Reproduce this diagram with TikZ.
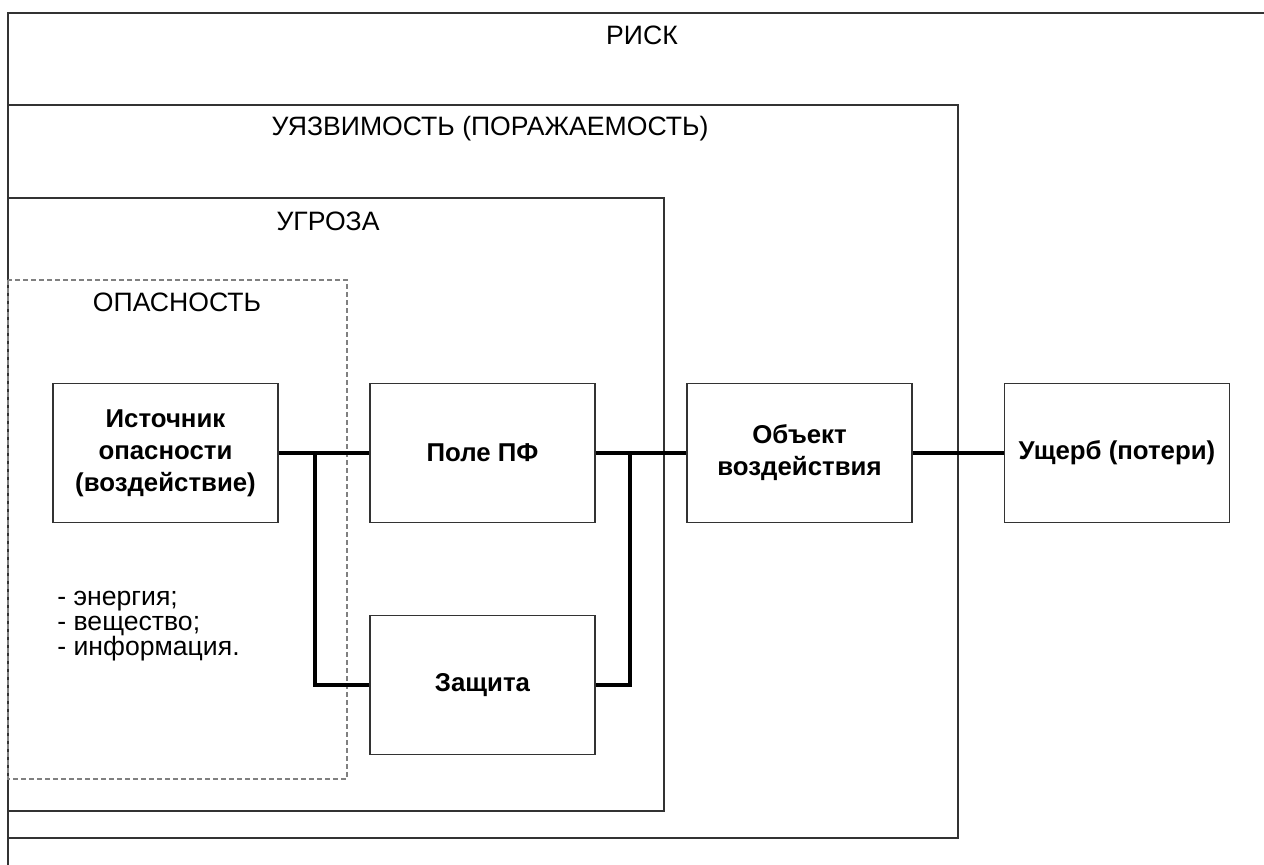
\documentclass[tikz,border=0pt]{standalone}
\usepackage{fontspec}
\setmainfont{Liberation Sans}
\usetikzlibrary{calc,positioning}
\definecolor{framegray}{HTML}{333333}
\definecolor{dashgray}{HTML}{808080}
\tikzset{
  frameline/.style={framegray, line width=0.55pt},
  dangerline/.style={dashgray, line width=0.55pt, dash pattern=on 2.5pt off 1.5pt},
  block/.style={draw=framegray, line width=0.55pt, minimum width=112.5pt, minimum height=69.5pt, align=center, inner sep=2pt, font=\bfseries\fontsize{12.9}{16}\selectfont},
  link/.style={black, line width=1.7pt},
  areatitle/.style={inner sep=0pt, font=\fontsize{13.3}{15}\selectfont}
}

\begin{document}
\begin{tikzpicture}[x=0.5pt,y=-0.5pt]
  \useasboundingbox (0,0) rectangle (1264,865);

  % nested areas
  \draw[frameline] (8,865) -- (8,13) -- (1264,13);
  \draw[frameline] (8,105) rectangle (958,838);
  \draw[frameline] (8,198) rectangle (664,811);
  \draw[dangerline] (8,280) rectangle (347,779);

  \node[areatitle] (risk) at (642,35) {РИСК};
  \node[areatitle] (vuln) at (490,129) {УЯЗВИМОСТЬ (ПОРАЖАЕМОСТЬ)};
  \node[areatitle] (threat) at (328,221) {УГРОЗА};
  \node[areatitle] (danger) at (177,302) {ОПАСНОСТЬ};

  % blocks
  \node[block] (src) at (165.5,453) {Источник\\опасности\\(воздействие)};
  \node[block] (field) at (482.5,453) {Поле ПФ};
  \node[block] (guard) at (482.5,685) {Защита};
  \node[block] (obj) at (799.5,453) {Объект\\воздействия};
  \node[block] (loss) at (1117,453) {Ущерб (потери)};

  \node[areatitle, anchor=west, align=left, font=\fontsize{13.3}{12.5}\selectfont] (kinds) at (57,626)
    {- энергия;\\- вещество;\\- информация.};

  % connectors
  \coordinate (jl) at ($(src.east)!0.4!(field.west)$);
  \coordinate (jr) at ($(field.east)!0.38!(obj.west)$);
  \draw[link] (src.east) -- (field.west);
  \draw[link] (jl) |- (guard.west);
  \draw[link] (field.east) -- (obj.west);
  \draw[link] (jr) |- (guard.east);
  \draw[link] (obj.east) -- (loss.west);
\end{tikzpicture}
\end{document}
